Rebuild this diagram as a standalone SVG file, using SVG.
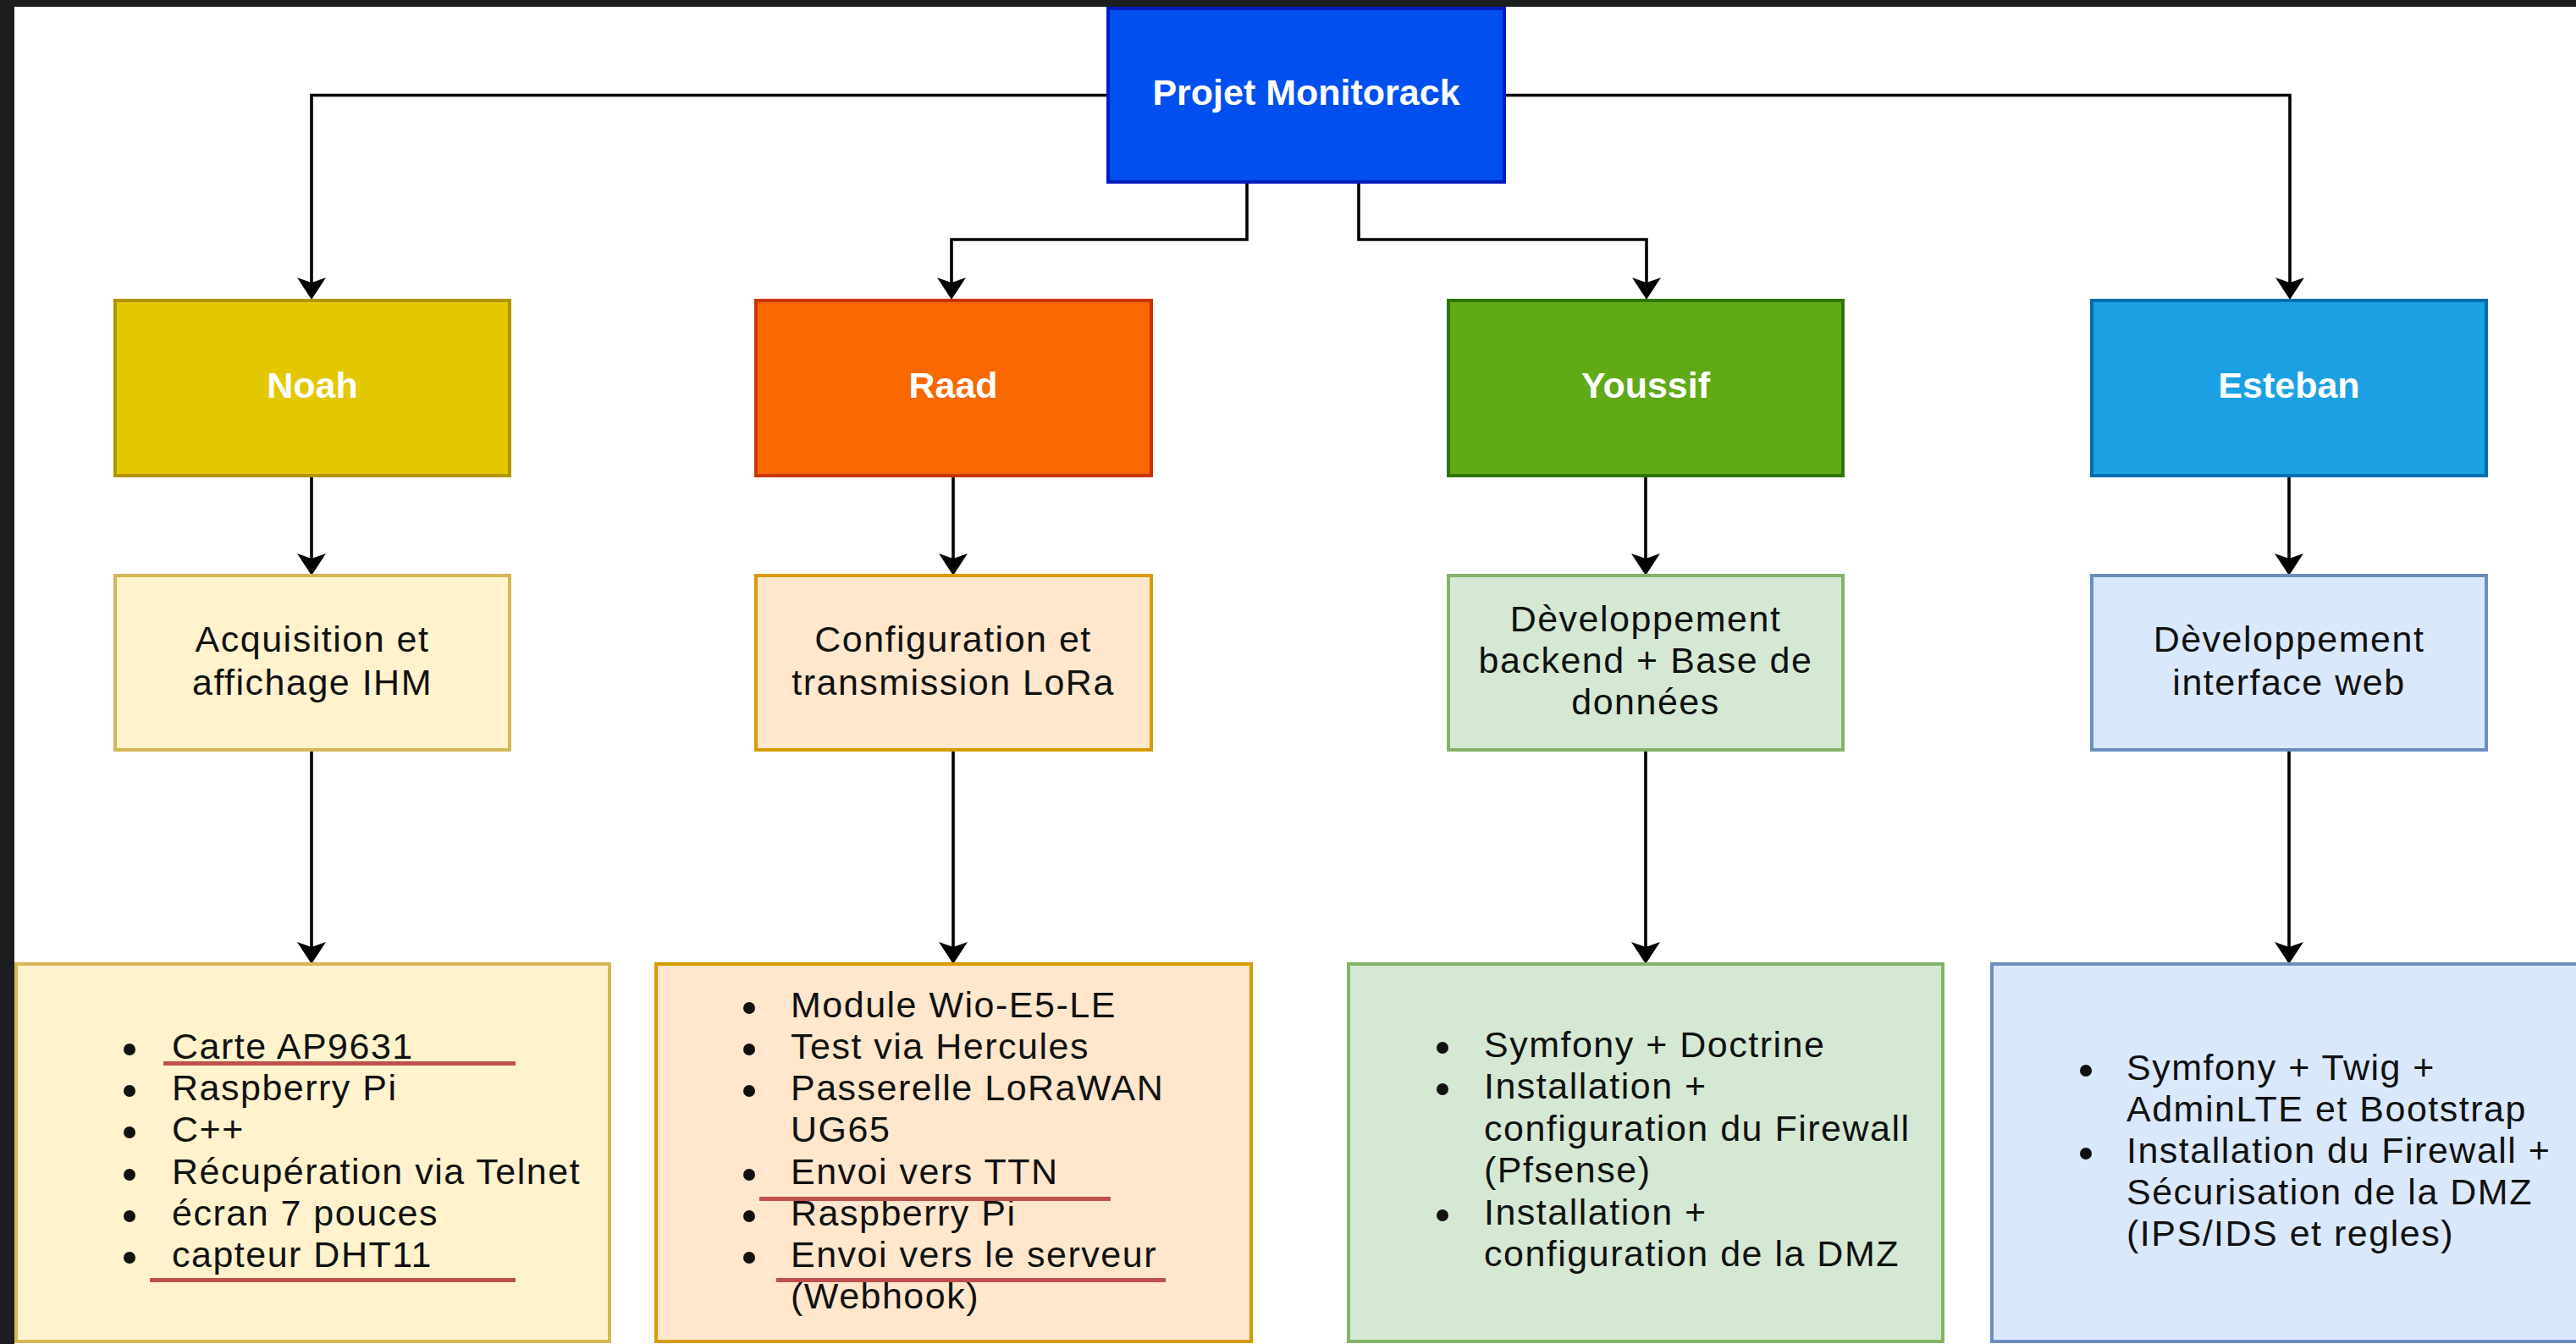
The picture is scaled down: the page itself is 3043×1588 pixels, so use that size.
<svg xmlns="http://www.w3.org/2000/svg" width="3043" height="1588" viewBox="0 0 3043 1588">
<style>
  .w { font-family: "Liberation Sans", Arial, sans-serif; font-size: 43px; font-weight: bold; fill: #ffffff; text-anchor: middle; }
  .t { font-family: "Liberation Sans", Arial, sans-serif; font-size: 43px; fill: #111111; letter-spacing: 1.5px; }
  .c { text-anchor: middle; }
  .box { stroke-width: 4; }
  .conn { fill: none; stroke: #000000; stroke-width: 3.6; }
  .ul { stroke: #C0504D; stroke-width: 5; fill: none; }
  .dot { fill: #111111; }
</style>
<defs>
  <marker id="arr" markerUnits="userSpaceOnUse" viewBox="-2 -19 30 38" refX="12" refY="0" markerWidth="30" markerHeight="38" orient="auto">
    <path d="M0,-17 L26,0 L0,17 L6,0 Z" fill="#000000"/>
  </marker>
</defs>
<rect x="0" y="0" width="3043" height="1588" fill="#ffffff"/>

<g id="connectors">
  <path class="conn" d="M1307,112.5 H368 V340" marker-end="url(#arr)"/>
  <path class="conn" d="M1779,112.5 H2705 V340" marker-end="url(#arr)"/>
  <path class="conn" d="M1473,217 V283 H1124 V340" marker-end="url(#arr)"/>
  <path class="conn" d="M1605,217 V283 H1945 V340" marker-end="url(#arr)"/>
  <path class="conn" d="M368,562 V666" marker-end="url(#arr)"/>
  <path class="conn" d="M1126,562 V666" marker-end="url(#arr)"/>
  <path class="conn" d="M1944,562 V666" marker-end="url(#arr)"/>
  <path class="conn" d="M2704,562 V666" marker-end="url(#arr)"/>
  <path class="conn" d="M368,886 V1125" marker-end="url(#arr)"/>
  <path class="conn" d="M1126,886 V1125" marker-end="url(#arr)"/>
  <path class="conn" d="M1944,886 V1125" marker-end="url(#arr)"/>
  <path class="conn" d="M2704,886 V1125" marker-end="url(#arr)"/>
</g>

<g id="root">
  <rect class="box" x="1309" y="10" width="468" height="205" fill="#0050EF" stroke="#001DBC"/>
  <text class="w" x="1543" y="124">Projet Monitorack</text>
</g>

<g id="noah">
  <rect class="box" x="136" y="355" width="466" height="207" fill="#E3C800" stroke="#B09500"/>
  <text class="w" x="369" y="470">Noah</text>
</g>
<g id="raad">
  <rect class="box" x="893" y="355" width="467" height="207" fill="#FA6800" stroke="#C73500"/>
  <text class="w" x="1126" y="470">Raad</text>
</g>
<g id="youssif">
  <rect class="box" x="1711" y="355" width="466" height="207" fill="#60A917" stroke="#2D7600"/>
  <text class="w" x="1944" y="470">Youssif</text>
</g>
<g id="esteban">
  <rect class="box" x="2471" y="355" width="466" height="207" fill="#1BA1E2" stroke="#006EAF"/>
  <text class="w" x="2704" y="470">Esteban</text>
</g>

<g id="noah-task">
  <rect class="box" x="136" y="680" width="466" height="206" fill="#FFF2CC" stroke="#D6B656"/>
  <text class="t c" x="369" y="770">Acquisition et</text>
  <text class="t c" x="369" y="821">affichage IHM</text>
</g>
<g id="raad-task">
  <rect class="box" x="893" y="680" width="467" height="206" fill="#FFE6CC" stroke="#D79B00"/>
  <text class="t c" x="1126" y="770">Configuration et</text>
  <text class="t c" x="1126" y="821">transmission LoRa</text>
</g>
<g id="youssif-task">
  <rect class="box" x="1711" y="680" width="466" height="206" fill="#D5E8D4" stroke="#82B366"/>
  <text class="t c" x="1944" y="746">Dèveloppement</text>
  <text class="t c" x="1944" y="795">backend + Base de</text>
  <text class="t c" x="1944" y="844">données</text>
</g>
<g id="esteban-task">
  <rect class="box" x="2471" y="680" width="466" height="206" fill="#DAE8FC" stroke="#6C8EBF"/>
  <text class="t c" x="2704" y="770">Dèveloppement</text>
  <text class="t c" x="2704" y="821">interface web</text>
</g>

<g id="noah-list">
  <rect class="box" x="19" y="1139" width="701" height="446" fill="#FFF2CC" stroke="#D6B656"/>
  <circle class="dot" cx="153" cy="1240" r="7"/>
  <circle class="dot" cx="153" cy="1289" r="7"/>
  <circle class="dot" cx="153" cy="1338" r="7"/>
  <circle class="dot" cx="153" cy="1388" r="7"/>
  <circle class="dot" cx="153" cy="1437" r="7"/>
  <circle class="dot" cx="153" cy="1486" r="7"/>
  <text class="t" x="203" y="1251">Carte AP9631</text>
  <text class="t" x="203" y="1300">Raspberry Pi</text>
  <text class="t" x="203" y="1349">C++</text>
  <text class="t" x="203" y="1399">Récupération via Telnet</text>
  <text class="t" x="203" y="1448">écran 7 pouces</text>
  <text class="t" x="203" y="1497">capteur DHT11</text>
</g>
<g id="raad-list">
  <rect class="box" x="775" y="1139" width="703" height="446" fill="#FFE6CC" stroke="#D79B00"/>
  <circle class="dot" cx="885" cy="1191" r="7"/>
  <circle class="dot" cx="885" cy="1240" r="7"/>
  <circle class="dot" cx="885" cy="1289" r="7"/>
  <circle class="dot" cx="885" cy="1388" r="7"/>
  <circle class="dot" cx="885" cy="1437" r="7"/>
  <circle class="dot" cx="885" cy="1486" r="7"/>
  <text class="t" x="934" y="1202">Module Wio-E5-LE</text>
  <text class="t" x="934" y="1251">Test via Hercules</text>
  <text class="t" x="934" y="1300">Passerelle LoRaWAN</text>
  <text class="t" x="934" y="1349">UG65</text>
  <text class="t" x="934" y="1399">Envoi vers TTN</text>
  <text class="t" x="934" y="1448">Raspberry Pi</text>
  <text class="t" x="934" y="1497">Envoi vers le serveur</text>
  <text class="t" x="934" y="1546">(Webhook)</text>
</g>
<g id="youssif-list">
  <rect class="box" x="1593" y="1139" width="702" height="446" fill="#D5E8D4" stroke="#82B366"/>
  <circle class="dot" cx="1704" cy="1238" r="7"/>
  <circle class="dot" cx="1704" cy="1287" r="7"/>
  <circle class="dot" cx="1704" cy="1436" r="7"/>
  <text class="t" x="1753" y="1249">Symfony + Doctrine</text>
  <text class="t" x="1753" y="1298">Installation +</text>
  <text class="t" x="1753" y="1348">configuration du Firewall</text>
  <text class="t" x="1753" y="1397">(Pfsense)</text>
  <text class="t" x="1753" y="1447">Installation +</text>
  <text class="t" x="1753" y="1496">configuration de la DMZ</text>
</g>
<g id="esteban-list">
  <rect class="box" x="2353" y="1139" width="720" height="446" fill="#DAE8FC" stroke="#6C8EBF"/>
  <circle class="dot" cx="2464" cy="1265" r="7"/>
  <circle class="dot" cx="2464" cy="1363" r="7"/>
  <text class="t" x="2512" y="1276">Symfony + Twig +</text>
  <text class="t" x="2512" y="1325">AdminLTE et Bootstrap</text>
  <text class="t" x="2512" y="1374">Installation du Firewall +</text>
  <text class="t" x="2512" y="1423">Sécurisation de la DMZ</text>
  <text class="t" x="2512" y="1472">(IPS/IDS et regles)</text>
</g>

<g id="underlines">
  <line class="ul" x1="193" y1="1256.5" x2="609" y2="1256.5"/>
  <line class="ul" x1="177" y1="1512.5" x2="609" y2="1512.5"/>
  <line class="ul" x1="897" y1="1416.5" x2="1312" y2="1416.5"/>
  <line class="ul" x1="917" y1="1512.5" x2="1377" y2="1512.5"/>
</g>

<g id="frame">
  <rect x="0" y="0" width="3043" height="8" fill="#1C1D1F"/>
  <rect x="0" y="0" width="17" height="1588" fill="#1C1D1F"/>
</g>
</svg>
